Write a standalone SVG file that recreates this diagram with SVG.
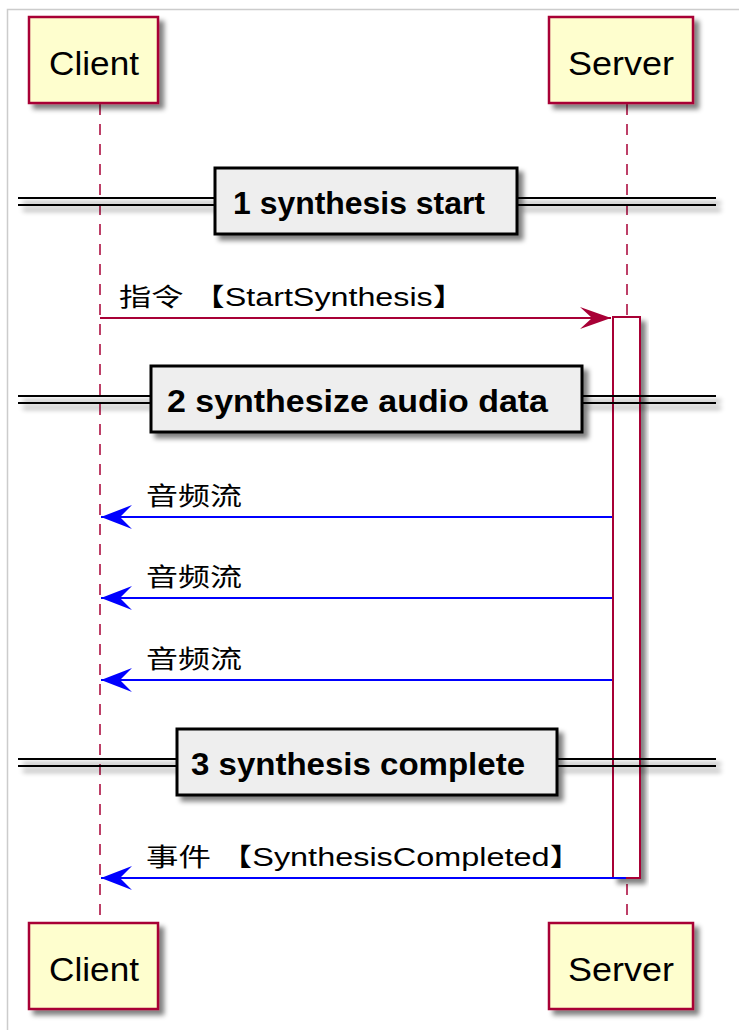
<svg xmlns="http://www.w3.org/2000/svg" width="739" height="1030" viewBox="0 0 739 1030">
<defs>
<filter id="sh" x="-20%" y="-20%" width="150%" height="150%">
<feGaussianBlur in="SourceAlpha" stdDeviation="2.5"/>
<feOffset dx="5" dy="5" result="b"/>
<feComponentTransfer><feFuncA type="linear" slope="0.5"/></feComponentTransfer>
<feMerge><feMergeNode/><feMergeNode in="SourceGraphic"/></feMerge>
</filter>
<marker id="ah-red" viewBox="0 0 32 24" refX="31" refY="12" markerWidth="32" markerHeight="24" markerUnits="userSpaceOnUse" orient="auto">
<polygon points="0,1 31,12 0,23 12,12" fill="#A80036"/>
</marker>
<marker id="ah-blue" viewBox="0 0 32 26" refX="31" refY="13" markerWidth="32" markerHeight="26" markerUnits="userSpaceOnUse" orient="auto">
<polygon points="0,1 31,13 0,25 12,13" fill="#0000FF"/>
</marker>
</defs>
<style>
.part{fill:#FEFECE;stroke:#A80036;stroke-width:2.5}
.ptxt{font-family:"Liberation Sans",Arial,sans-serif;font-size:33px;fill:#000}
.life{stroke:#A80036;stroke-width:1.5;stroke-dasharray:11,9;fill:none}
.sepbox{fill:#EEEEEE;stroke:#000;stroke-width:3}
.sepline{stroke:#000;stroke-width:2}
.septxt{font-family:"Liberation Sans",Arial,sans-serif;font-weight:bold;font-size:31px;fill:#000}
.msg{font-family:"Liberation Sans","Noto Sans CJK SC",sans-serif;font-size:25px;fill:#000}
.red{stroke:#A80036;stroke-width:2;fill:none}
.blue{stroke:#0000FF;stroke-width:2;fill:none}
.act{fill:#FFFFFF;stroke:#A80036;stroke-width:2}
</style>
<rect x="0" y="0" width="739" height="1030" fill="#FFFFFF"/>
<path d="M7.5,1030 V9.5 H739" stroke="#CCCCCC" stroke-width="1.5" fill="none"/>

<g id="lifelines">
<line class="life" x1="100" y1="104" x2="100" y2="923"/>
<line class="life" x1="627" y1="104" x2="627" y2="923"/>
</g>

<g id="activation">
<rect class="act" x="613" y="317" width="27" height="561" filter="url(#sh)"/>
</g>

<g id="separators">
<g id="sep1">
<g filter="url(#sh)">
<line class="sepline" x1="18" y1="198" x2="716" y2="198"/>
<line class="sepline" x1="18" y1="205" x2="716" y2="205"/>
<rect class="sepbox" x="215" y="168" width="302" height="66"/>
</g>
<text class="septxt" x="233" y="214" textLength="252" lengthAdjust="spacingAndGlyphs">1 synthesis start</text>
</g>
<g id="sep2">
<g filter="url(#sh)">
<line class="sepline" x1="18" y1="396" x2="716" y2="396"/>
<line class="sepline" x1="18" y1="403" x2="716" y2="403"/>
<rect class="sepbox" x="151" y="366" width="431" height="66"/>
</g>
<text class="septxt" x="167" y="412" textLength="381" lengthAdjust="spacingAndGlyphs">2 synthesize audio data</text>
</g>
<g id="sep3">
<g filter="url(#sh)">
<line class="sepline" x1="18" y1="759" x2="716" y2="759"/>
<line class="sepline" x1="18" y1="766" x2="716" y2="766"/>
<rect class="sepbox" x="177" y="729" width="380" height="66"/>
</g>
<text class="septxt" x="191" y="775" textLength="334" lengthAdjust="spacingAndGlyphs">3 synthesis complete</text>
</g>
</g>

<g id="connectors">
<line class="red" x1="100" y1="318" x2="611" y2="318" marker-end="url(#ah-red)"/>
<line class="blue" x1="612" y1="517" x2="101" y2="517" marker-end="url(#ah-blue)"/>
<line class="blue" x1="612" y1="598" x2="101" y2="598" marker-end="url(#ah-blue)"/>
<line class="blue" x1="612" y1="680" x2="101" y2="680" marker-end="url(#ah-blue)"/>
<line class="blue" x1="626" y1="878" x2="101" y2="878" marker-end="url(#ah-blue)"/>
</g>

<g id="labels">
<text class="msg" x="119" y="306" textLength="346" lengthAdjust="spacingAndGlyphs">指令 【StartSynthesis】</text>
<text class="msg" x="146" y="505" textLength="96" lengthAdjust="spacingAndGlyphs">音频流</text>
<text class="msg" x="146" y="586" textLength="96" lengthAdjust="spacingAndGlyphs">音频流</text>
<text class="msg" x="146" y="668" textLength="96" lengthAdjust="spacingAndGlyphs">音频流</text>
<text class="msg" x="146" y="866" textLength="436" lengthAdjust="spacingAndGlyphs">事件 【SynthesisCompleted】</text>
</g>

<g id="client-top">
<rect class="part" x="29" y="17" width="129" height="86" filter="url(#sh)"/>
<text class="ptxt" x="49" y="75" textLength="90" lengthAdjust="spacingAndGlyphs">Client</text>
</g>
<g id="server-top">
<rect class="part" x="549" y="17" width="144" height="86" filter="url(#sh)"/>
<text class="ptxt" x="568" y="75" textLength="106" lengthAdjust="spacingAndGlyphs">Server</text>
</g>
<g id="client-bottom">
<rect class="part" x="29" y="923" width="129" height="86" filter="url(#sh)"/>
<text class="ptxt" x="49" y="981" textLength="90" lengthAdjust="spacingAndGlyphs">Client</text>
</g>
<g id="server-bottom">
<rect class="part" x="549" y="923" width="144" height="86" filter="url(#sh)"/>
<text class="ptxt" x="568" y="981" textLength="106" lengthAdjust="spacingAndGlyphs">Server</text>
</g>
</svg>
